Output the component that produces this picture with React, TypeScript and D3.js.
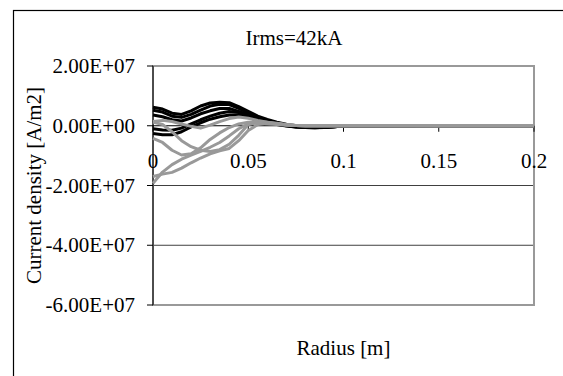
import React from "react";
import * as d3 from "d3";

// Radius sample points [m]
const radius = [
  0, 0.005, 0.01, 0.015, 0.02, 0.025, 0.03, 0.035, 0.04, 0.045, 0.05, 0.055,
  0.06, 0.065, 0.07, 0.075, 0.08, 0.085, 0.09, 0.095, 0.1, 0.15, 0.2,
];

// Current density profiles, in units of 1e6 A/m2
const UNIT = 1e6;
const blackSeries: number[][] = [
  [6.2, 5.6, 4.2, 3.8, 5.0, 6.6, 7.6, 7.9, 7.7, 6.4, 4.8, 3.2, 2.1, 1.2, 0.5, 0, -0.4, -0.6, -0.5, -0.3, -0.1, 0, 0],
  [5.2, 4.6, 3.2, 2.8, 3.8, 5.2, 6.6, 7.2, 7.1, 5.8, 4.2, 2.9, 1.8, 1.0, 0.3, -0.2, -0.6, -0.7, -0.6, -0.3, -0.1, 0, 0],
  [3.6, 3.0, 2.0, 1.6, 2.6, 4.0, 5.0, 5.8, 5.8, 4.8, 3.6, 2.5, 1.5, 0.8, 0.2, -0.3, -0.6, -0.7, -0.5, -0.3, -0.1, 0, 0],
  [-1.0, -1.4, -1.5, -0.8, 0.6, 2.0, 3.2, 4.2, 4.8, 4.4, 3.2, 2.1, 1.2, 0.5, 0, -0.4, -0.6, -0.6, -0.5, -0.3, -0.1, 0, 0],
  [-2.6, -3.0, -3.0, -2.0, -0.4, 1.0, 2.2, 3.0, 3.6, 3.6, 2.8, 1.8, 1.0, 0.4, -0.1, -0.4, -0.6, -0.6, -0.4, -0.2, -0.1, 0, 0],
];
const graySeries: number[][] = [
  [-19.3, -15.5, -13.0, -11.2, -9.8, -8.6, -7.2, -5.6, -3.4, -1.0, 0.6, 0.9, 0.7, 0.4, 0.2, 0.1, 0, 0, 0, 0, 0, 0, 0],
  [-17.0, -16.2, -15.6, -14.2, -12.4, -10.8, -9.4, -8.4, -7.6, -5.0, -1.6, 0.4, 0.9, 0.6, 0.3, 0.1, 0, 0, 0, 0, 0, 0, 0],
  [1.2, 0.4, -2.0, -5.0, -7.0, -8.2, -8.6, -8.0, -6.2, -3.2, 0.4, 1.4, 1.2, 0.8, 0.4, 0.1, 0, 0, 0, 0, 0, 0, 0],
  [-4.2, -5.6, -8.2, -9.8, -9.4, -7.4, -4.6, -2.4, -0.6, 0.6, 1.2, 1.3, 1.0, 0.6, 0.3, 0.1, 0, 0, 0, 0, 0, 0, 0],
  [1.4, 1.8, 1.4, 0.6, -0.2, -0.8, 0.2, 1.4, 2.4, 2.9, 2.5, 1.8, 1.2, 0.7, 0.3, 0.1, 0, 0, 0, 0, 0, 0, 0],
];

const yTicks = [2e7, 0, -2e7, -4e7, -6e7];
const yTickLabels = ["2.00E+07", "0.00E+00", "-2.00E+07", "-4.00E+07", "-6.00E+07"];
const yGrid = [-2e7, -4e7];
const xTicks = [0, 0.05, 0.1, 0.15, 0.2];
const xTickLabels = ["0", "0.05", "0.1", "0.15", "0.2"];

const title = "Irms=42kA";
const xTitle = "Radius [m]";
const yTitle = "Current density [A/m2]";

const W = 563;
const H = 376;
const plot = { left: 153, right: 534, top: 66, bottom: 305 };
const font = "'Liberation Serif', 'Times New Roman', serif";
const fontSize = 21;

export default function App() {
  const x = d3.scaleLinear().domain([0, 0.2]).range([plot.left, plot.right]);
  const y = d3.scaleLinear().domain([-6e7, 2e7]).range([plot.bottom, plot.top]);

  const line = d3
    .line<number>()
    .x((_, i) => x(radius[i]))
    .y((v) => y(v * UNIT));

  const y0 = y(0);

  return (
    <svg
      width={W}
      height={H}
      style={{ position: "absolute", left: 0, top: 0, display: "block" }}
      fontFamily={font}
    >
      <rect x={0} y={0} width={W} height={H} fill="#fff" />
      {/* chart frame */}
      <rect x={13.5} y={10.5} width={W} height={H} fill="none" stroke="#000" strokeWidth={1.2} />

      {/* gridlines */}
      {yGrid.map((v) => (
        <line key={v} x1={plot.left} x2={plot.right} y1={y(v)} y2={y(v)} stroke="#404040" strokeWidth={1} />
      ))}

      {/* plot area border */}
      <rect
        x={plot.left}
        y={plot.top}
        width={plot.right - plot.left}
        height={plot.bottom - plot.top}
        fill="none"
        stroke="#999"
        strokeWidth={2}
      />

      {/* y axis */}
      <line x1={plot.left} x2={plot.left} y1={plot.top} y2={plot.bottom} stroke="#000" strokeWidth={1} />
      {yTicks.map((v, i) => (
        <g key={v}>
          <line x1={plot.left - 6} x2={plot.left} y1={y(v)} y2={y(v)} stroke="#000" />
          <text x={plot.left - 18} y={y(v) + 7} textAnchor="end" fontSize={fontSize}>
            {yTickLabels[i]}
          </text>
        </g>
      ))}

      {/* x axis at zero */}
      <line x1={plot.left} x2={plot.right} y1={y0} y2={y0} stroke="#000" strokeWidth={1} />
      {xTicks.map((v) => (
        <line key={v} x1={x(v)} x2={x(v)} y1={y0} y2={y0 + 6} stroke="#000" />
      ))}

      {/* series */}
      {blackSeries.map((s, i) => (
        <path key={"b" + i} d={line(s) || ""} fill="none" stroke="#000" strokeWidth={3} strokeLinejoin="round" />
      ))}
      {graySeries.map((s, i) => (
        <path key={"g" + i} d={line(s) || ""} fill="none" stroke="#999" strokeWidth={3} strokeLinejoin="round" />
      ))}

      {/* x tick labels */}
      {xTicks.map((v, i) => (
        <text key={v} x={x(v)} y={168} textAnchor="middle" fontSize={fontSize}>
          {xTickLabels[i]}
        </text>
      ))}

      <text x={294} y={45} textAnchor="middle" fontSize={fontSize}>
        {title}
      </text>
      <text x={(plot.left + plot.right) / 2} y={355} textAnchor="middle" fontSize={fontSize}>
        {xTitle}
      </text>
      <text
        transform={`translate(41, ${(plot.top + plot.bottom) / 2}) rotate(-90)`}
        textAnchor="middle"
        fontSize={fontSize}
      >
        {yTitle}
      </text>
    </svg>
  );
}
